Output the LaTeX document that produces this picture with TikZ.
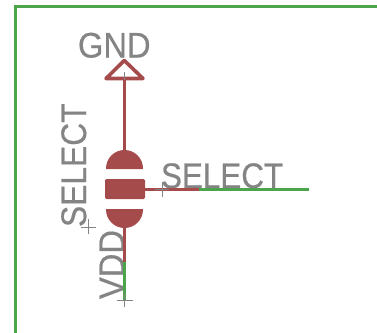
\documentclass[tikz,border=0pt]{standalone}
\usepackage{fontspec}
\setmainfont{Liberation Sans}
\definecolor{eaglered}{HTML}{A54B4B}
\definecolor{eaglegreen}{HTML}{4BA54B}
\definecolor{eaglegray}{HTML}{848484}
\tikzset{
  x=1pt,y=-1pt,
  redline/.style={draw=eaglered,line width=3pt},
  greenline/.style={draw=eaglegreen,line width=3pt},
  frameline/.style={draw=eaglegreen,line width=3pt},
  origincross/.style={draw=eaglegray,line width=0.8pt},
  bodyfill/.style={fill=eaglered,draw=eaglered,line width=1pt,line join=round},
  label/.style={text=eaglegray,font=\fontsize{35.5}{35.5}\selectfont\addfontfeature{FakeBold=0.5},inner sep=0pt,outer sep=0pt},
}
\begin{document}
\begin{tikzpicture}
\useasboundingbox (0,0) rectangle (377,332);
% frame
\draw[frameline] (15.5,340) -- (15.5,6.5) -- (385,6.5);
% named points
\coordinate (apex) at (124.3,60.5);
\coordinate (baseL) at (106,78.5);
\coordinate (baseR) at (143,78.5);
\coordinate (stemTop) at (124.3,78.5);
\coordinate (bodyTop) at (124.3,151);
\coordinate (bodyBot) at (124.3,227);
\coordinate (wireJoin) at (124.3,262);
\coordinate (vddEnd) at (124.3,300);
\coordinate (midR) at (144.5,189);
\coordinate (selJoin) at (199,189);
\coordinate (selEnd) at (309,189);
% labels
\node[label,anchor=base west,xscale=0.92] (gndlabel) at (78,57.5) {GND};
\node[label,anchor=base west,xscale=0.885] (sellabel) at (161,188) {SELECT};
\node[label,anchor=base west,rotate=90,xscale=0.895] (sellabelv) at (86,227) {SELECT};
\node[label,anchor=base west,rotate=90,xscale=0.92] (vddlabel) at (124,299) {VDD};
% ground symbol
\draw[redline,line width=3.6pt,line join=round,line cap=round] (apex) -- (baseR) -- (baseL) -- cycle;
\draw[redline] (stemTop) -- (bodyTop);
% body
\fill[bodyfill] (106.5,168.5) arc[start angle=180,end angle=360,radius=18] -- cycle;
\fill[bodyfill,rounded corners=1pt] (105.5,179.5) rectangle (144.5,198.5);
\fill[bodyfill] (106.5,209.5) arc[start angle=180,end angle=0,radius=18] -- cycle;
% wires
\draw[redline] (bodyBot) -- (wireJoin);
\draw[greenline] (wireJoin) -- (vddEnd);
\draw[redline] (midR) -- (selJoin);
\draw[greenline] (selJoin) -- (selEnd);
% origin crosses
\draw[origincross] (117,300) -- (133,300) (124.3,293) -- (124.3,307);
\draw[origincross] (155,189.5) -- (169,189.5) (162,182) -- (162,197);
\draw[origincross] (81,227) -- (96,227) (88.5,219) -- (88.5,234);
\draw[origincross] (124.3,72) -- (124.3,80);
\end{tikzpicture}
\end{document}
